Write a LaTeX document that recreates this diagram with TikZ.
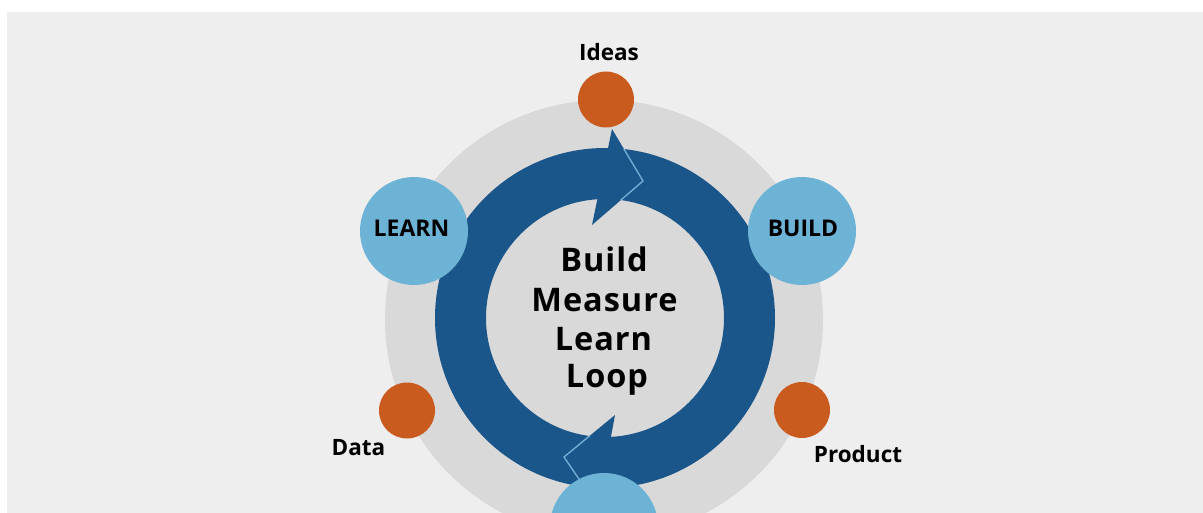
\documentclass[tikz,border=0pt]{standalone}
\usepackage{fontspec}
\setmainfont{Open Sans}
\newfontfamily\loopfont[LetterSpace=3]{Open Sans}
\definecolor{bgcol}{HTML}{EEEEEE}
\definecolor{ringgray}{HTML}{D9D9D9}
\definecolor{loopblue}{HTML}{1A568A}
\definecolor{stageblue}{HTML}{6DB3D6}
\definecolor{dotorange}{HTML}{C95B1F}
\definecolor{tipcol}{HTML}{74ABD3}
\begin{document}
\begin{tikzpicture}[x=1pt,y=-1pt,
  stage/.style={circle, fill=stageblue, minimum size=108pt, inner sep=0pt},
  stagetext/.style={anchor=base, inner sep=0pt, font=\fontsize{23}{26}\selectfont\bfseries},
  dot/.style={circle, fill=dotorange, minimum size=56pt, inner sep=0pt},
  dottext/.style={anchor=base, inner sep=0pt, font=\fontsize{22.5}{26}\selectfont\bfseries},
  looptext/.style={anchor=base, inner sep=0pt, font=\loopfont\fontsize{32.5}{38}\selectfont\bfseries},
  tipline/.style={draw=tipcol, line width=1.4pt, line join=miter}]
\useasboundingbox (0,0) rectangle (1203,513);
\clip (0,0) rectangle (1203,513);
\fill[white] (0,0) rectangle (1203,513);
\fill[bgcol] (7,12) rectangle (1203,513);
\coordinate (C) at (605,318);
\fill[ringgray] (604,319) circle (219pt);
\fill[loopblue, even odd rule] (C) circle (170pt) (C) circle (119pt);
% arrow heads
\coordinate (tb1) at (612,129);
\coordinate (tt) at (643,181);
\coordinate (tb2) at (592,225);
\coordinate (bb1) at (615,415);
\coordinate (bt) at (564,457);
\coordinate (bb2) at (598,507);
\fill[loopblue] (tb1) -- (tt) -- (tb2) -- cycle;
\fill[loopblue] (bb1) -- (bt) -- (bb2) -- cycle;
\begin{scope}[even odd rule]
  \clip (C) circle (170pt) (C) circle (119pt);
  \draw[tipline] (tb1) -- (tt) -- (tb2);
  \draw[tipline] (bb1) -- (bt) -- (bb2);
\end{scope}
% stages
\node[stage] (learn) at (414,231) {};
\node[stage] (build) at (802,231) {};
\node[stage] (measure) at (604,527) {};
\node[stagetext] (learnt) at (411.5,237) {LEARN};
\node[stagetext] (buildt) at (803,237) {BUILD};
% dots
\node[dot] (ideas) at (606,99.5) {};
\node[dot] (data) at (407,410.5) {};
\node[dot] (product) at (802,410) {};
\node[dottext] (ideast) at (609,61) {Ideas};
\node[dottext] (datat) at (358.5,455) {Data};
\node[dottext] (productt) at (858,462) {Product};
% centre text
\node[looptext] (l1) at (604,272) {Build};
\node[looptext] (l2) at (604.5,312) {Measure};
\node[looptext] (l3) at (603.5,350) {Learn};
\node[looptext] (l4) at (607,387) {Loop};
\end{tikzpicture}
\end{document}
